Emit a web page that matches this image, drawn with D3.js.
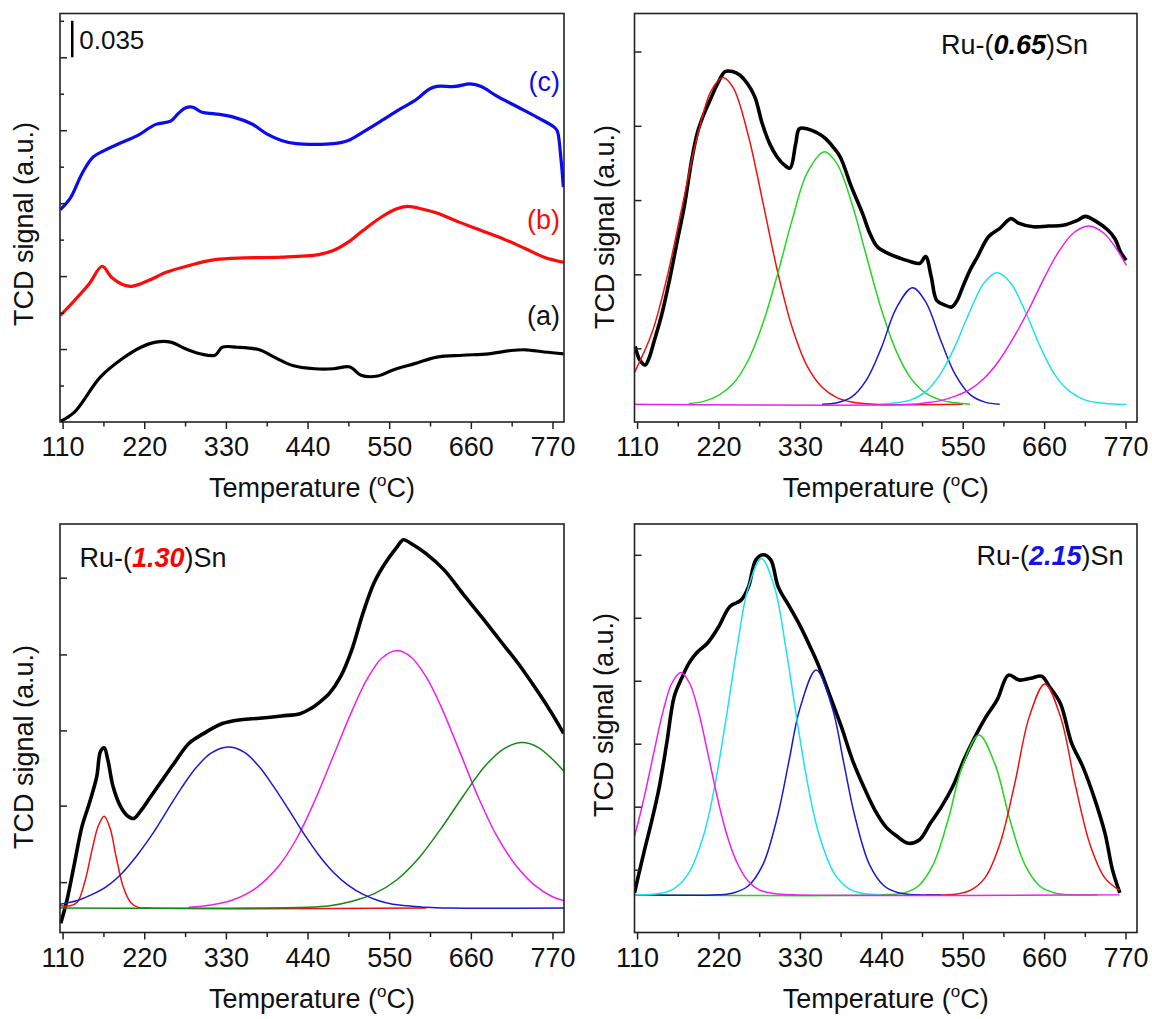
<!DOCTYPE html>
<html>
<head>
<meta charset="utf-8">
<script src="https://cdn.jsdelivr.net/npm/d3@7"></script>
<style>
  body { margin: 0; background: #fff; }
  svg { display: block; font-family: "Liberation Sans", Arial, sans-serif; }
</style>
</head>
<body>
<svg id="chart" width="1152" height="1019"></svg>
<script>
// H2-TPR profiles of the Ru-Sn catalysts: raw traces (top-left) and the
// Gaussian deconvolution of each sample. Values are [temperature degC, signal]
// signal is in each panel's own tick units.

const T_DOMAIN = [106.5, 785.5];
const T_TICKS = [110, 220, 330, 440, 550, 660, 770];
const T_MINOR = [165, 275, 385, 495, 605, 715];

// --- top-left: stacked traces (a) Ru-(0.65)Sn, (b) Ru-(1.30)Sn, (c) Ru-(2.15)Sn
const p1A = [[107.5,0.02],[126,0.27],[160.8,1.23],[190.7,1.74],[215.6,2.05],[235.6,2.19],[255.5,2.19],
  [275.4,2.01],[295.4,1.87],[315.3,1.83],[325.2,2.05],[345.2,2.05],[375.1,1.98],[395,1.78],[419.9,1.55],
  [449.8,1.46],[474.7,1.46],[497.2,1.51],[512.1,1.28],[534.5,1.26],[554.4,1.42],[584.3,1.6],[614.2,1.78],
  [649.1,1.83],[683.9,1.87],[713.9,1.96],[733.8,1.98],[758.7,1.92],[785,1.87]];
const p1B = [[107,2.92],[126,3.33],[145.9,3.79],[163.3,4.27],[175.8,3.97],[190.7,3.77],[203.2,3.72],
  [225.6,3.88],[250.5,4.11],[280.4,4.29],[315.3,4.45],[355.1,4.5],[405,4.52],[454.8,4.59],[474.7,4.7],
  [494.7,4.93],[514.6,5.25],[539.5,5.62],[559.4,5.84],[574.4,5.91],[594.3,5.84],[614.2,5.73],[644.1,5.48],
  [674,5.25],[703.9,5.02],[733.8,4.75],[758.7,4.52],[785,4.38]];
const p1C = [[107,5.82],[121,6.16],[135.9,6.8],[150.9,7.26],[165.8,7.44],[185.7,7.63],[210.6,7.85],
  [235.6,8.16],[255.5,8.25],[265.5,8.45],[275.4,8.61],[285.4,8.63],[297.8,8.49],[315.3,8.45],[340.2,8.36],
  [365.1,8.17],[385,7.9],[404.9,7.72],[424.9,7.63],[449.8,7.61],[474.7,7.63],[494.7,7.72],[514.6,7.95],
  [539.5,8.26],[564.4,8.58],[584.3,8.81],[604.3,9.13],[614.2,9.2],[639.1,9.2],[659.1,9.27],[674,9.2],
  [693.9,8.95],[723.8,8.63],[748.8,8.36],[771.2,8.1],[776.2,7.99],[781.2,7.26],[784.6,6.44]];
const p1Labels = ["(a)", "(b)", "(c)"];
const p1LabelY = [2.65, 5.3, 9.08];
const p1YMajor = [2, 4, 6, 8, 10];
const p1YMinor = [1, 3, 5, 7, 9, 11];
const scaleBarText = "0.035";

// --- top-right: Ru-(0.65)Sn
const p2Black = [[107.5,0.78],[113.5,0.6],[121,0.53],[126.1,0.62],[133.6,0.87],[143.6,1.22],[153.7,1.67],
  [163.7,2.17],[173.7,2.66],[183.8,3.29],[191.3,3.65],[198.8,3.87],[208.8,4.1],[218.9,4.32],[228.9,4.48],
  [239,4.48],[249,4.43],[259,4.32],[269.1,4.14],[279.1,3.78],[289.1,3.51],[299.2,3.33],[309.2,3.22],
  [316.7,3.18],[324.3,3.51],[329.3,3.71],[339.3,3.71],[354.4,3.65],[364.4,3.58],[374.4,3.47],[384.5,3.33],
  [399.5,2.93],[414.6,2.57],[424.6,2.3],[434.6,2.12],[449.7,2.03],[464.7,1.97],[479.8,1.92],[492.3,1.9],
  [499.9,1.99],[507.4,1.72],[514.9,1.4],[525,1.34],[535,1.31],[542.5,1.4],[550,1.58],[560.1,1.81],
  [570.1,1.99],[585.1,2.26],[600.2,2.37],[615.3,2.5],[625.3,2.44],[645.4,2.39],[665.5,2.4],[685.5,2.41],
  [705.6,2.48],[715.6,2.53],[730.7,2.46],[745.7,2.35],[755.7,2.23],[763.3,2.05],[770.8,1.94]];
const p2Red = [[106.5,0.43],[130,0.96],[150,1.69],[170,2.62],[190,3.55],[210,4.22],[226,4.4],[240,4.26],
  [260,3.63],[280,2.72],[300,1.78],[320,1.02],[340,0.51],[360,0.23],[380,0.09],[400,0.03],[430,0],[550,0]];
const p2Green = [[180,0.01],[200,0.04],[220,0.12],[240,0.28],[260,0.59],[280,1.09],[300,1.76],[320,2.5],
  [340,3.12],[363,3.4],[380,3.24],[400,2.71],[420,1.99],[440,1.28],[460,0.72],[480,0.35],[500,0.15],
  [520,0.06],[540,0.02],[560,0]];
const p2Blue = [[360,0],[380,0.02],[400,0.1],[420,0.33],[440,0.76],[460,1.29],[482,1.57],[500,1.38],
  [520,0.87],[540,0.4],[560,0.13],[580,0.03],[600,0]];
const p2Cyan = [[440,0],[460,0.02],[480,0.06],[500,0.17],[520,0.41],[540,0.79],[560,1.26],[580,1.65],
  [597,1.77],[615,1.63],[635,1.24],[655,0.77],[675,0.39],[695,0.17],[715,0.06],[735,0.02],[760,0],[771,0]];
const p2Magenta = [[106.5,0],[480,0],[500,0.02],[520,0.05],[540,0.11],[560,0.2],[580,0.36],[600,0.6],
  [620,0.92],[640,1.29],[660,1.7],[680,2.06],[700,2.31],[720,2.4],[740,2.31],[760,2.06],[771,1.87]];
const p2YTicks = [0.754, 1.75, 2.75, 3.75, 4.75];

// --- bottom-left: Ru-(1.30)Sn
const p3Black = [[107.5,-0.2],[116,0.11],[126,0.59],[136,1.07],[146,1.38],[156,1.73],[161,2.06],[166,2.11],
  [171,1.95],[178,1.6],[188,1.34],[198,1.21],[206,1.18],[216,1.29],[226,1.43],[241,1.64],[260.5,1.91],
  [280.4,2.17],[300.3,2.3],[325.2,2.43],[350.2,2.48],[375.1,2.5],[405,2.53],[429.9,2.56],[444.8,2.63],
  [454.8,2.7],[469.7,2.83],[484.7,3.05],[499.6,3.4],[514.6,3.88],[529.5,4.28],[544.5,4.54],[559.4,4.74],
  [569.4,4.85],[579.4,4.8],[599.3,4.67],[624.2,4.45],[649.1,4.14],[674,3.84],[698.9,3.53],[723.8,3.22],
  [748.8,2.87],[768.7,2.57],[785,2.3]];
const p3Red = [[106.5,0.03],[120,0.03],[130,0.08],[140,0.35],[150,0.78],[158,1.08],[166,1.21],[174,1.05],
  [182,0.68],[192,0.27],[202,0.07],[212,0.01],[225,0],[600,0]];
const p3Blue = [[106.5,0.05],[130,0.1],[150,0.18],[170,0.29],[190,0.46],[210,0.69],[230,0.96],[250,1.27],
  [270,1.58],[290,1.85],[310,2.04],[333,2.12],[355,2.05],[375,1.86],[395,1.59],[415,1.29],[435,0.98],
  [455,0.7],[475,0.47],[495,0.3],[515,0.18],[535,0.1],[555,0.05],[575,0.03],[600,0.01],[630,0],[785.5,0]];
const p3Magenta = [[280,0.01],[310,0.04],[340,0.11],[370,0.26],[400,0.54],[425,0.91],[450,1.42],[475,2.01],
  [500,2.6],[520,3.01],[540,3.29],[561,3.39],[580,3.3],[600,3.04],[620,2.65],[645,2.06],[670,1.46],
  [695,0.95],[720,0.57],[745,0.31],[770,0.15],[785.5,0.1]];
const p3Green = [[106.5,0],[440,0.01],[470,0.03],[500,0.09],[530,0.19],[560,0.37],[590,0.66],[620,1.05],
  [650,1.48],[680,1.88],[705,2.1],[729,2.18],[750,2.12],[770,1.96],[785.5,1.8]];
const p3YTicks = [0.342, 1.35, 2.34, 3.34, 4.35];

// --- bottom-right: Ru-(2.15)Sn
const p4Black = [[106.5,0.03],[112.5,0.34],[120,0.71],[130.1,1.19],[140.1,1.72],[150.1,2.41],[160.2,3.15],
  [170.2,3.44],[180.2,3.68],[190.3,3.84],[205.3,4.0],[220.4,4.26],[235.4,4.58],[250.5,4.68],[260.5,4.89],
  [270.6,5.32],[280.6,5.4],[290.6,5.32],[300.7,4.89],[315.7,4.58],[330.8,4.26],[345.8,3.89],[355.9,3.62],
  [370.9,3.15],[386,2.67],[401,2.14],[416.1,1.72],[431.1,1.35],[446.2,1.08],[461.2,0.93],[476.3,0.82],
  [491.3,0.87],[506.4,1.14],[521.4,1.4],[536.5,1.72],[551.5,2.14],[566.6,2.51],[581.6,2.83],[596.7,3.1],
  [611.8,3.49],[626.8,3.41],[641.9,3.44],[656.9,3.47],[667,3.31],[682,3.04],[697.1,2.41],[712.1,2.04],
  [727.2,1.56],[742.2,0.98],[752.3,0.4],[762.3,0.03]];
const p4Magenta = [[106.5,0.93],[115,1.32],[125,1.84],[135,2.39],[145,2.91],[157,3.36],[169,3.53],[181,3.36],
  [193,2.91],[203,2.39],[213,1.84],[223,1.32],[233,0.89],[245,0.51],[260,0.22],[275,0.08],[295,0.02],
  [320,0],[762,0]];
const p4Cyan = [[106.5,0],[140,0.02],[160,0.1],[180,0.35],[200,0.95],[215,1.73],[230,2.78],[245,3.92],
  [260,4.87],[278,5.34],[296,4.87],[311,3.92],[326,2.78],[341,1.73],[356,0.95],[376,0.35],[396,0.1],
  [416,0.02],[440,0]];
const p4Blue = [[106.5,0],[220,0],[240,0.03],[260,0.14],[280,0.48],[300,1.26],[315,2.11],[330,2.96],
  [352,3.57],[374,2.96],[389,2.11],[404,1.26],[424,0.48],[444,0.14],[464,0.03],[490,0],[520,0]];
const p4Green = [[106.5,0],[440,0],[470,0.03],[490,0.14],[510,0.48],[530,1.18],[550,2.06],[572,2.54],
  [594,2.06],[614,1.18],[634,0.48],[654,0.14],[674,0.03],[700,0],[732,0]];
const p4Red = [[500,0],[540,0.01],[560,0.07],[580,0.27],[600,0.8],[620,1.75],[640,2.83],[661,3.35],
  [682,2.83],[702,1.75],[722,0.8],[742,0.27],[762,0.07]];
const p4YTicks = [0.4, 1.4, 2.4, 3.4, 4.4, 5.4];

// colours used by the fitted components
const C = {
  black: "#000", red: "#ee1111", green: "#22d622", blue: "#1a1acc",
  cyan: "#1ee0ee", magenta: "#ee1fee", dgreen: "#138a13",
  traceBlue: "#0b0bf0", traceRed: "#ff0a0a"
};

const panels = [
  { left: 60, right: 564, top: 13.5, bottom: 422, yDomain: [0, 11.2],
    yTicks: p1YMajor, yMinor: p1YMinor, ylabY: 224, ylabDx: 27,
    series: [[p1A, C.black, 3.2], [p1B, C.traceRed, 3.2], [p1C, C.traceBlue, 3.2]] },
  { left: 634.5, right: 1137, top: 13.5, bottom: 422, yDomain: [-0.238, 5.262],
    yTicks: p2YTicks, ylabY: 227, ylabDx: 21,
    series: [[p2Black, C.black, 3.6], [p2Red, C.red, 1.5], [p2Green, C.green, 1.5], [p2Blue, C.blue, 1.5],
             [p2Cyan, C.cyan, 1.5], [p2Magenta, C.magenta, 1.5]],
    tag: { x: 941, y: 54, num: "0.65", color: "#000" } },
  { left: 60, right: 564, top: 524, bottom: 932.5, yDomain: [-0.321, 5.057],
    yTicks: p3YTicks, ylabY: 747, ylabDx: 27,
    series: [[p3Black, C.black, 3.6], [p3Red, C.red, 1.5], [p3Magenta, C.magenta, 1.5],
             [p3Green, C.dgreen, 1.5], [p3Blue, C.blue, 1.5]],
    tag: { x: 79.5, y: 567, num: "1.30", color: "#ff0000" } },
  { left: 634.5, right: 1137, top: 524, bottom: 932.5, yDomain: [-0.598, 5.889],
    yTicks: p4YTicks, ylabY: 715, ylabDx: 22,
    series: [[p4Black, C.black, 3.6], [p4Green, C.green, 1.5], [p4Red, C.red, 1.5], [p4Blue, C.blue, 1.5],
             [p4Cyan, C.cyan, 1.5], [p4Magenta, C.magenta, 1.5]],
    tag: { x: 976.5, y: 565, num: "2.15", color: "#1414e6" } }
];

const svg = d3.select("#chart");
const FS = 27;

panels.forEach((p, i) => {
  const x = d3.scaleLinear(T_DOMAIN, [p.left, p.right]);
  const y = d3.scaleLinear(p.yDomain, [p.bottom, p.top]);
  const g = svg.append("g");

  const clipId = `clip${i}`;
  svg.append("defs").append("clipPath").attr("id", clipId).append("rect")
    .attr("x", p.left).attr("y", p.top).attr("width", p.right - p.left).attr("height", p.bottom - p.top);

  const line = d3.line().x((d) => x(d[0])).y((d) => y(d[1])).curve(d3.curveCatmullRom.alpha(0.5));
  const plot = g.append("g").attr("clip-path", `url(#${clipId})`);
  p.series.forEach(([data, color, w]) => {
    plot.append("path").datum(data).attr("fill", "none").attr("stroke", color)
      .attr("stroke-width", w).attr("stroke-linejoin", "round").attr("d", line);
  });

  // frame
  g.append("rect").attr("x", p.left).attr("y", p.top)
    .attr("width", p.right - p.left).attr("height", p.bottom - p.top)
    .attr("fill", "none").attr("stroke", "#222").attr("stroke-width", 1.6);

  // x axis: outward ticks, labelled majors + unlabelled minors
  const xa = g.append("g").attr("transform", `translate(0,${p.bottom})`)
    .call(d3.axisBottom(x).tickValues(T_TICKS).tickSize(7).tickPadding(8).tickFormat(d3.format("d")));
  g.append("g").attr("transform", `translate(0,${p.bottom})`)
    .call(d3.axisBottom(x).tickValues(T_MINOR).tickSize(4.5).tickFormat(""));
  // y axis: inward ticks only
  g.append("g").attr("transform", `translate(${p.left},0)`)
    .call(d3.axisRight(y).tickValues(p.yTicks).tickSize(7).tickFormat(""));
  if (p.yMinor) {
    g.append("g").attr("transform", `translate(${p.left},0)`)
      .call(d3.axisRight(y).tickValues(p.yMinor).tickSize(4).tickFormat(""));
  }
  g.selectAll(".domain").remove();
  g.selectAll(".tick line").attr("stroke", "#222").attr("stroke-width", 1.5);
  xa.selectAll("text").attr("font-size", FS).attr("fill", "#111");
  g.selectAll("g[font-family]").attr("font-family", null);

  // axis titles
  const xt = g.append("text").attr("x", (p.left + p.right) / 2).attr("y", p.bottom + 75)
    .attr("text-anchor", "middle").attr("font-size", FS).attr("fill", "#111");
  xt.append("tspan").text("Temperature (");
  xt.append("tspan").attr("dy", -11).attr("font-size", 17).text("o");
  xt.append("tspan").attr("dy", 11).text("C)");

  g.append("text").attr("transform", `translate(${p.left - p.ylabDx},${p.ylabY}) rotate(-90)`)
    .attr("text-anchor", "middle").attr("font-size", FS).attr("fill", "#111")
    .text("TCD signal (a.u.)");

  if (p.tag) {
    const t = g.append("text").attr("x", p.tag.x).attr("y", p.tag.y).attr("font-size", FS).attr("fill", "#111");
    t.append("tspan").text("Ru-(");
    t.append("tspan").attr("font-weight", "bold").attr("font-style", "italic")
      .attr("fill", p.tag.color).text(p.tag.num);
    t.append("tspan").text(")Sn");
  }

  if (i === 0) {
    // scale bar and curve labels
    g.append("line").attr("x1", x(123)).attr("x2", x(123)).attr("y1", y(11)).attr("y2", y(10))
      .attr("stroke", "#000").attr("stroke-width", 2.5);
    g.append("text").attr("x", x(123) + 7).attr("y", 49).attr("font-size", 26).attr("fill", "#111")
      .text(scaleBarText);
    const labColors = [C.black, C.traceRed, C.traceBlue];
    p1Labels.forEach((lab, k) => {
      g.append("text").attr("x", p.right - 4).attr("y", y(p1LabelY[k])).attr("text-anchor", "end")
        .attr("font-size", FS).attr("fill", k === 0 ? "#111" : labColors[k]).text(lab);
    });
  }
});
</script>
</body>
</html>
